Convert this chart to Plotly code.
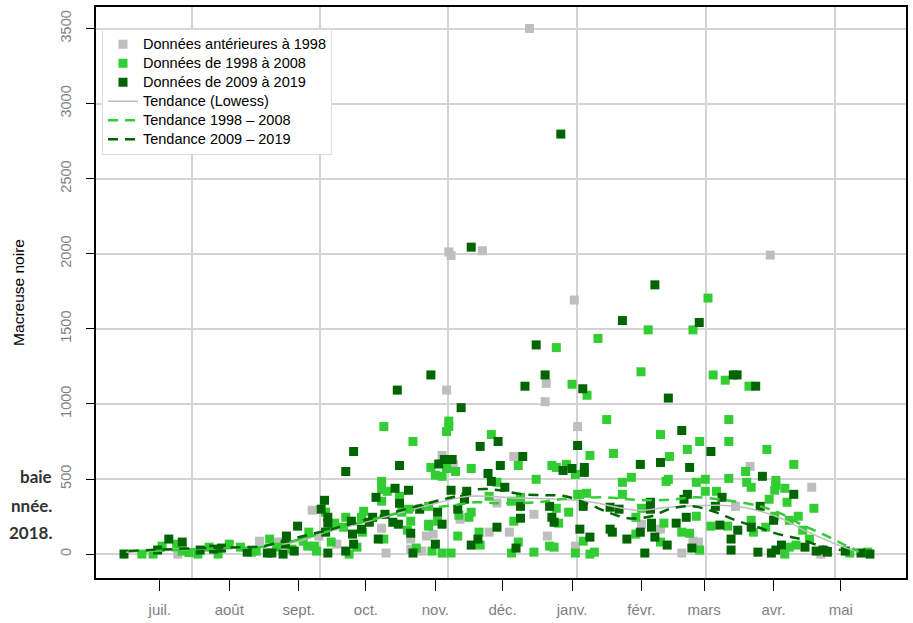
import plotly.graph_objects as go

# ---------------- data ----------------
MONTH_DAYS = [0, 31, 62, 92, 123, 153, 184, 215, 243, 274, 304]
MONTH_LABELS = ["juil.", "août", "sept.", "oct.", "nov.", "déc.", "janv.", "févr.", "mars", "avr.", "mai"]
GRID_DAYS = [14.25, 71.7, 128.7, 186.2, 243.6, 301.5]
Y_TICKS = [0, 500, 1000, 1500, 2000, 2500, 3000, 3500]

GRAY_DAY = [8, 44.5, 53, 68, 71, 126, 131, 158, 156, 147, 134, 119, 122, 117, 112, 99, 79, 101,
            172, 186.5, 167, 215, 223.5, 173, 240.5, 238, 233, 185.5, 263.5, 291, 257, 295,
            165, 129, 130, 144, 185, 172.5, 128, 272.5, 150.5, 112]
GRAY_COUNT = [0, 86, 80, 292, 120, 657, 597, 650, 146, 146, 232, 120, 133, 20, 33, 172, 66, 7,
              1015, 849, 265, 199, 166, 120, 80, 86, 7, 53, 584, 445, 318, 0,
              3500, 2012, 1988, 2020, 1692, 1137, 1092, 1991, 340, 100]

LIGHT_DAY = [-8, -3, 1, 7.5, 10, 13, 17, 22, 26, 31, 36, 41, 43, 49, 52, 59, 64, 66.5, 66, 70, 74, 77, 76.5, 69,
             129, 129, 128, 100, 113, 148, 121, 123, 126, 128, 132, 139, 150.5, 147, 160, 157, 161, 158, 160, 157,
             142.5, 143, 133, 133.5, 139, 138, 124, 120, 120, 121.5, 126, 130, 114.5, 112, 110.5, 108, 107, 120,
             111, 99, 99, 99, 101.5, 91, 90, 83, 82, 90.5, 100, 84.5, 78, 88,
             199.5, 223.5, 241, 192, 202.5, 227.5, 235.5, 175, 177, 181.5, 185.5, 168, 206.5, 210.5, 226, 227,
             239.5, 243.5, 243.5, 206.5, 186.5, 190.5, 177, 182.5, 215, 178, 212.5, 239.5, 246, 225, 212.5, 233,
             236.5, 189, 174, 176, 223.5, 241, 185.5, 192, 194, 167,
             254, 254, 271, 261.5, 283, 254, 262, 264, 275, 275, 279, 274.5, 248.5, 272, 280, 292, 274.5, 281,
             285, 264, 253.5, 265, 270.5, 287, 290, 279, 281, 284, 308, 316,
             244.7, 238, 218, 177, 195.6, 214.8, 247, 252.4, 263, 184, 190.7]
LIGHT_COUNT = [0, 0, 53, 66, 20, 10, 0, 46, 0, 66, 46, 13, 20, 100, 46, 33, 86, 146, 53, 20, 279, 199, 80, 53,
               886, 850, 816, 849, 750, 796, 577, 525, 518, 570, 550, 570, 478, 385, 590, 352, 378, 219, 80, 7,
               146, 60, 120, 259, 279, 245, 219, 199, 186, 20, 7, 7, 40, 219, 159, 279, 385, 318,
               299, 484, 431, 352, 418, 285, 245, 245, 179, 146, 100, 0, 206, 46,
               896, 796, 750, 657, 670, 650, 697, 590, 577, 597, 530, 498, 478, 511, 484, 498,
               478, 498, 418, 398, 398, 405, 305, 279, 305, 206, 245, 252, 186, 206, 133, 146,
               139, 86, 53, 46, 80, 27, 7, 0, 13, 13,
               896, 750, 697, 550, 597, 504, 478, 445, 491, 458, 438, 425, 418, 365, 345, 305, 252, 225,
               252, 225, 186, 146, 179, 159, 100, 0, 46, 60, 7, 13,
               1705, 1493, 1493, 1375, 1436, 1214, 1193, 1158, 1118, 1131, 1058]

DARK_DAY = [-16, -1, 4, 10, 18, 24, 27.5, 39, 48, 50, 55, 56.5, 56, 60, 61.5, 72, 73.5, 75, 75, 74, 75,
            134.5, 86.5, 151, 143, 83, 107, 124.5, 127, 130.5, 146.5, 148, 152, 154, 162, 161, 161, 159, 150.5,
            142, 139, 137, 136, 130, 133, 124, 126, 123, 113, 112, 107, 111, 105, 116, 106.5, 104, 96.5, 100.5,
            95, 93.5, 85.5, 90, 86, 97.5, 86.5, 83,
            233, 246, 186.5, 223.5, 214.5, 236.5, 180, 184, 189.5, 189.5, 235.5, 234, 248, 174, 189, 201, 205,
            219, 219, 175, 176, 235, 230.5, 219.5, 219.5, 214.5, 221, 201, 202, 187.5, 192, 208.5, 226.5, 237.5, 216.5,
            269, 283, 251, 268, 274, 250, 258, 264, 255, 255, 267, 273, 275, 277.5, 288, 293, 296, 298, 306, 313, 317,
            139, 179, 221, 240.8, 206.5, 168, 172, 163, 188.8, 256, 257.7, 266, 227, 121, 106]
DARK_COUNT = [0, 27, 100, 80, 27, 33, 40, 13, 7, 7, 0, 120, 66, 20, 186, 299, 358, 245, 206, 146, 7,
              975, 683, 750, 717, 550, 590, 600, 630, 630, 537, 484, 590, 445, 650, 318, 239, 40, 179,
              100, 60, 418, 365, 425, 299, 279, 199, 66, 7, 139, 338, 425, 438, 299, 199, 212, 378, 265,
              245, 212, 219, 166, 133, 100, 66, 20,
              823, 683, 723, 610, 597, 577, 557, 570, 577, 544, 398, 365, 318, 318, 318, 312, 299,
              345, 299, 245, 212, 245, 206, 206, 179, 146, 113, 166, 146, 166, 113, 100, 60, 40, 7,
              518, 398, 378, 318, 225, 193, 159, 179, 100, 27, 13, 7, 27, 60, 46, 20, 27, 13, 20, 7, 0,
              2044, 2797, 1793, 1542, 1555, 1393, 1193, 1118, 1101, 1193, 1193, 1118, 1039, 1193, 1092]

LOWESS_DAY = [-15, 18, 48, 62, 76, 80, 105, 125, 138, 160, 165, 190, 213, 227, 249, 260, 275, 289.5, 304, 312]
LOWESS = [13, 33, 53, 86, 153, 166, 265, 345, 385, 372, 372, 352, 292, 312, 325, 312, 252, 146, 53, 13]

LIGHT_TREND_DAY = [-10, 20, 50, 65, 80, 100, 110, 131, 141, 152, 169, 179, 199, 209, 219, 230, 239, 253,
                   268, 278, 287, 296, 305, 312]
LIGHT_TREND = [15, 35, 55, 110, 172, 250, 285, 325, 345, 338, 345, 365, 378, 365, 358, 365, 378, 358,
               318, 265, 192, 133, 66, 20]

DARK_TREND_DAY = [-14, -4.5, 6, 18, 36, 46, 65.5, 77, 81.5, 101, 114.5, 123, 132, 141.5, 151.5, 161.5,
                  171.5, 181, 191.5, 200, 209, 219.5, 228.5, 238, 248, 257, 267, 276, 286, 295, 304]
DARK_TREND = [20, 27, 33, 40, 46, 53, 126, 166, 186, 265, 318, 352, 385, 431, 425, 398,
              392, 385, 332, 279, 239, 252, 305, 318, 279, 225, 179, 133, 100, 53, 27]

SERIES_NAMES = ["Données antérieures à 1998", "Données de 1998 à 2008", "Données de 2009 à 2019",
                "Tendance (Lowess)", "Tendance 1998 – 2008", "Tendance 2009 – 2019"]

# ---------------- styles ----------------
GRAY = "#BEBEBE"
LIGHT = "#32CD32"
DARK = "#006400"
MS = 9


def lg(name):
    return '<span style="font-size:14.5px">' + name + '</span>'


fig = go.Figure()
fig.add_trace(go.Scatter(x=GRAY_DAY, y=GRAY_COUNT, mode="markers", name=lg(SERIES_NAMES[0]),
                         marker=dict(symbol="square", size=MS, color=GRAY)))
fig.add_trace(go.Scatter(x=LIGHT_DAY, y=LIGHT_COUNT, mode="markers", name=lg(SERIES_NAMES[1]),
                         marker=dict(symbol="square", size=MS, color=LIGHT)))
fig.add_trace(go.Scatter(x=DARK_DAY, y=DARK_COUNT, mode="markers", name=lg(SERIES_NAMES[2]),
                         marker=dict(symbol="square", size=MS, color=DARK)))
fig.add_trace(go.Scatter(x=LOWESS_DAY, y=LOWESS, mode="lines", name=lg(SERIES_NAMES[3]),
                         line=dict(color=GRAY, width=1.5, shape="spline")))
fig.add_trace(go.Scatter(x=LIGHT_TREND_DAY, y=LIGHT_TREND, mode="lines", name=lg(SERIES_NAMES[4]),
                         line=dict(color=LIGHT, width=2.5, dash="10px,7px", shape="spline")))
fig.add_trace(go.Scatter(x=DARK_TREND_DAY, y=DARK_TREND, mode="lines", name=lg(SERIES_NAMES[5]),
                         line=dict(color=DARK, width=2.5, dash="10px,7px", shape="spline")))

fig.update_layout(
    width=913, height=623,
    margin=dict(l=96, r=5, t=6, b=44),
    plot_bgcolor="white", paper_bgcolor="white",
    showlegend=True,
    legend=dict(x=0.0074, y=0.962, xanchor="left", yanchor="top",
                bgcolor="white", bordercolor="#dddddd", borderwidth=1,
                font=dict(family="Liberation Sans, Arial, sans-serif", size=12, color="black"),
                tracegroupgap=0),
    xaxis=dict(range=[-28.5, 333.1], tickmode="array", tickvals=MONTH_DAYS, ticktext=MONTH_LABELS,
               ticks="outside", ticklen=11, tickcolor="black", tickwidth=1,
               showgrid=False, zeroline=False,
               showline=True, mirror=True, linecolor="black", linewidth=1.5,
               tickfont=dict(family="Liberation Sans Narrow, Arial Narrow, Liberation Sans, sans-serif",
                             size=15, color="#808080"),
               ticklabelstandoff=6,
               minor=dict(tickmode="array", tickvals=GRID_DAYS, showgrid=True,
                          gridcolor="#d3d3d3", gridwidth=1.5, ticks="")),
    yaxis=dict(range=[-159.3, 3643.3], tickmode="array", tickvals=Y_TICKS,
               ticks="outside", ticklen=8, tickcolor="black", tickwidth=1, tickangle=-90,
               showgrid=True, gridcolor="#d3d3d3", gridwidth=1.5, zeroline=False,
               showline=True, mirror=True, linecolor="black", linewidth=1.5,
               tickfont=dict(family="Liberation Sans, Arial, sans-serif", size=14.5, color="#808080"),
               ticklabelstandoff=9,
               title=dict(text="Macreuse noire", standoff=30,
                          font=dict(family="Liberation Sans, Arial, sans-serif", size=15.5, color="black"))),
)

CAPTION = ["baie", "nnée.", "2018."]
CAP_Y = [0.178, 0.127, 0.080]
for txt, yy in zip(CAPTION, CAP_Y):
    fig.add_annotation(text=txt, xref="paper", yref="paper", x=-0.052, y=yy,
                       xanchor="right", yanchor="middle", showarrow=False,
                       font=dict(family="Lato, Open Sans, sans-serif", size=17, color="#333333", weight="bold"))

fig.write_html("out.html", config={"displayModeBar": False},
               post_script="document.body.style.margin='0px';document.body.style.overflow='hidden';")
